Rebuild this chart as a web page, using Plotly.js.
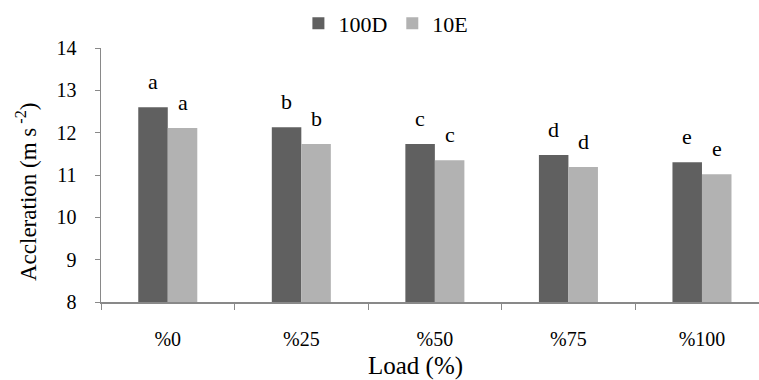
<!DOCTYPE html>
<html>
<head>
<meta charset="utf-8">
<script src="https://cdn.plot.ly/plotly-3.0.1.min.js"></script>
<style>html,body{margin:0;padding:0;background:#fff;}#chart{width:759px;height:380px;}
#chart svg text{font-family:'Liberation Serif','Times New Roman',serif !important;}</style>
</head>
<body>
<div id="chart"></div>
<script>
const categories = ["%0", "%25", "%50", "%75", "%100"];
const series100D = [12.60, 12.13, 11.73, 11.47, 11.30];
const series10E = [12.11, 11.73, 11.35, 11.19, 11.02];
const letters100D = ["a", "b", "c", "d", "e"];
const letters10E = ["a", "b", "c", "d", "e"];
const yTicks = [8, 9, 10, 11, 12, 13, 14];
const xTitle = "Load (%)";
const yTitle = "Accleration (m s<sup> -2</sup>)";

const FONT = "Times New Roman";

const traces = [
  {type: "bar", name: "100D", x: categories, y: series100D, marker: {color: "#606060"}},
  {type: "bar", name: "10E", x: categories, y: series10E, marker: {color: "#b2b2b2"}}
];

const annotations = [];
categories.forEach((c, i) => {
  annotations.push({x: c, y: series100D[i], text: letters100D[i], showarrow: false,
    xshift: -15, yshift: 11, yanchor: "bottom", font: {family: FONT, size: 22, color: "#000"}});
  annotations.push({x: c, y: series10E[i], text: letters10E[i], showarrow: false,
    xshift: 15, yshift: 11, yanchor: "bottom", font: {family: FONT, size: 22, color: "#000"}});
});
// axis titles placed as paper annotations
annotations.push({xref: "paper", yref: "paper", x: 0.478, y: -0.25, xanchor: "center", yanchor: "middle",
  text: xTitle, showarrow: false, font: {family: FONT, size: 25, color: "#000"}});
annotations.push({xref: "paper", yref: "paper", x: -0.114, y: 0.433, xanchor: "center", yanchor: "middle",
  text: yTitle, textangle: -90, showarrow: false, font: {family: FONT, size: 23, color: "#000"}});

const layout = {
  width: 759, height: 380,
  margin: {l: 101, r: 0, t: 48, b: 78},
  paper_bgcolor: "#fff", plot_bgcolor: "#fff",
  font: {family: FONT, size: 19, color: "#000"},
  barmode: "group", bargap: 0.558, bargroupgap: 0,
  showlegend: true,
  annotations: annotations,
  legend: {
    orientation: "h", x: 0.30, xanchor: "left", y: 1.097, yanchor: "middle",
    font: {family: FONT, size: 22, color: "#000"},
    tracegroupgap: 0
  },
  xaxis: {
    type: "category", range: [-0.5, 4.427],
    showline: true, linecolor: "#898989", linewidth: 1.5,
    ticks: "outside", tickson: "boundaries", ticklen: 6, tickcolor: "#898989",
    tickfont: {family: FONT, size: 20},
    ticklabelstandoff: 18,
    showgrid: false, zeroline: false
  },
  yaxis: {
    range: [8, 14], tickvals: yTicks,
    showline: true, linecolor: "#898989", linewidth: 1.5,
    ticks: "outside", ticklen: 5, tickcolor: "#898989",
    tickfont: {family: FONT, size: 20},
    ticklabelstandoff: 14,
    showgrid: false, zeroline: false
  }
};

Plotly.newPlot("chart", traces, layout, {staticPlot: true, displayModeBar: false});
</script>
</body>
</html>
